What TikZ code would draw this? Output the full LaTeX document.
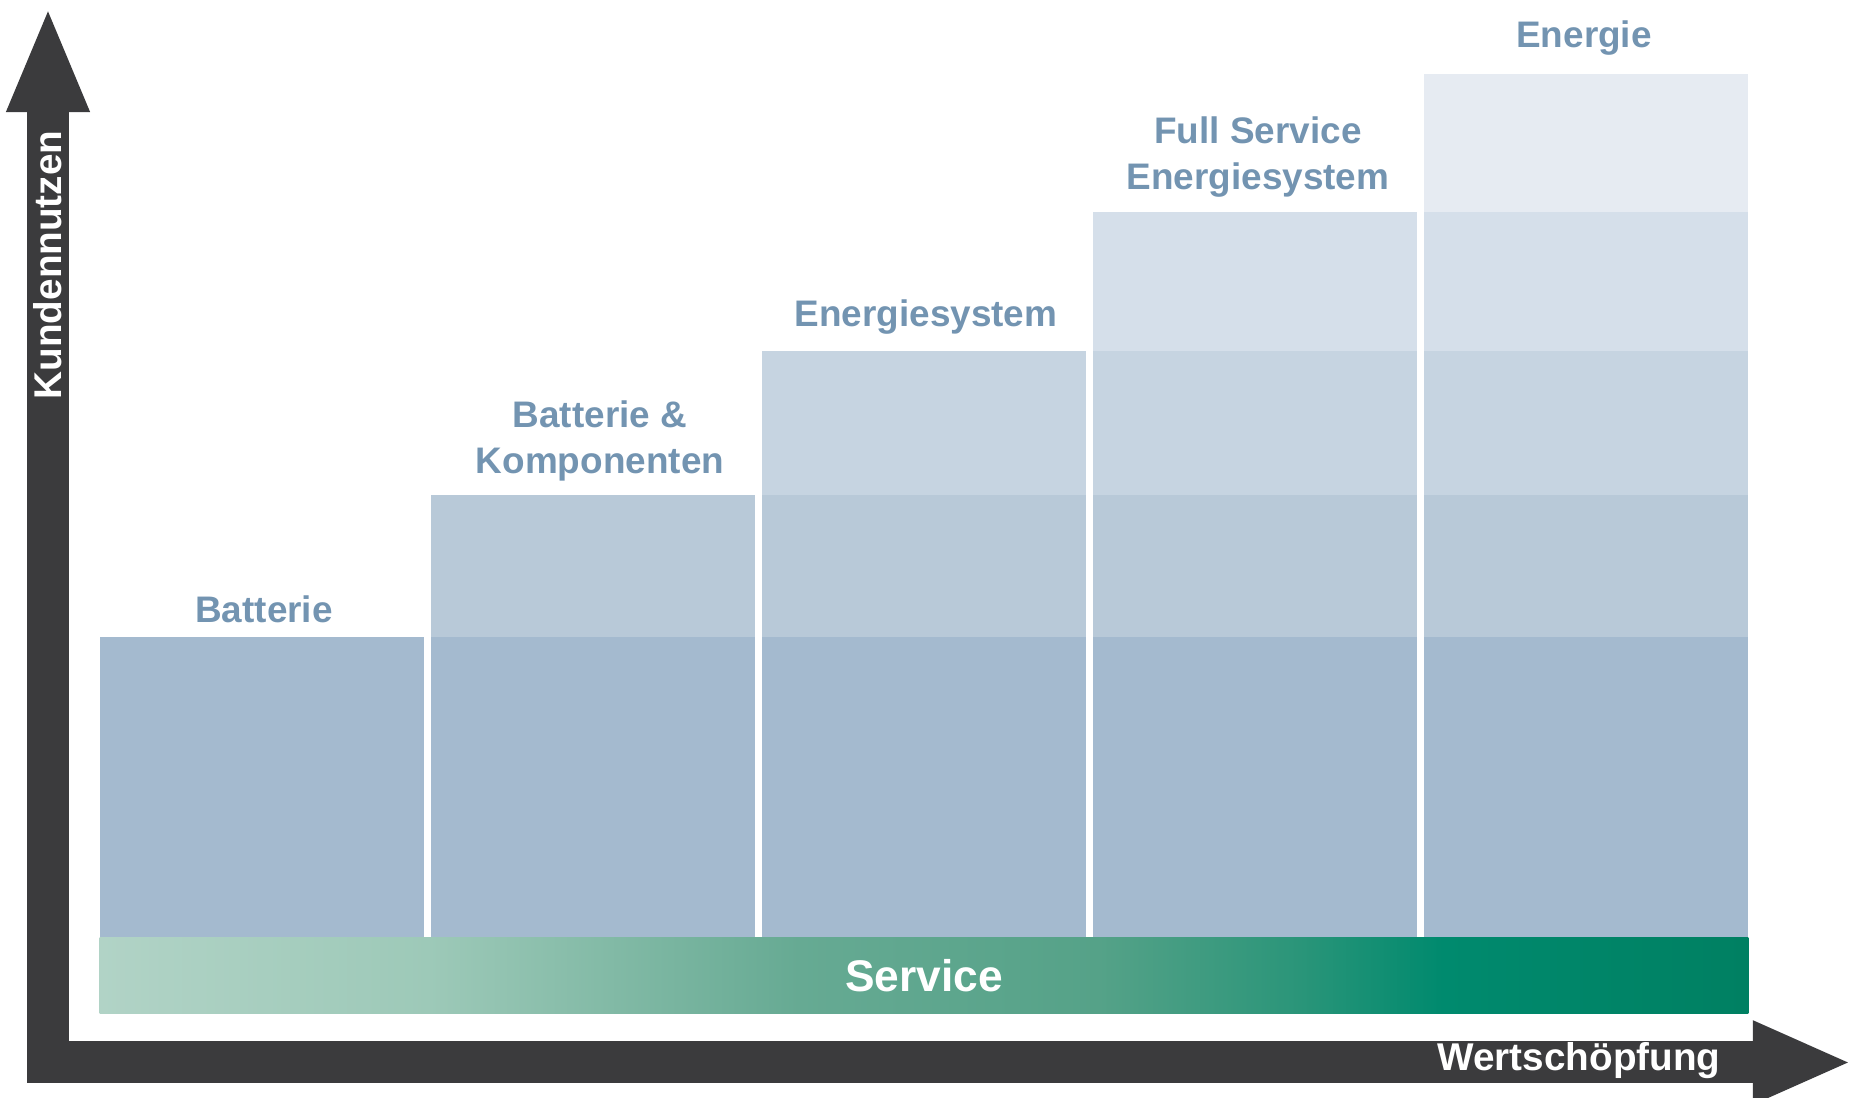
\documentclass[tikz,border=0pt]{standalone}
\usepackage{fontspec}
\setmainfont{Liberation Sans}
\usepackage{tikz}
\usetikzlibrary{
  positioning,
  arrows.meta
}
\usepackage{xcolor}

\definecolor{axisgray}{HTML}{3B3B3D}
\definecolor{lbltext}{HTML}{7394B1}
\definecolor{lvl1}{HTML}{A4BACF}
\definecolor{lvl2}{HTML}{B8C9D8}
\definecolor{lvl3}{HTML}{C6D4E1}
\definecolor{lvl4}{HTML}{D5DFEA}
\definecolor{lvl5}{HTML}{E6EBF2}
\definecolor{svA}{HTML}{B1D3C6}
\definecolor{svB}{HTML}{9DC9B8}
\definecolor{svC}{HTML}{66AA93}
\definecolor{svD}{HTML}{55A288}
\definecolor{svE}{HTML}{2A9579}
\definecolor{svF}{HTML}{008A6E}
\definecolor{svG}{HTML}{008062}
\pgfdeclarehorizontalshading{servicefade}{100bp}{color(0bp)=(svA); color(25bp)=(svA);
  color(35bp)=(svB); color(46.2bp)=(svC); color(55.3bp)=(svD); color(61.4bp)=(svE);
  color(65.7bp)=(svF); color(75bp)=(svG); color(100bp)=(svG)}

\begin{document}
\begin{tikzpicture}[x=0.01cm,y=0.01cm,
  axis/.style={draw=axisgray,line width=0.42cm,line join=miter,
    {Triangle[width=0.75cm,length=1.06cm]}-{Triangle[width=0.76cm,length=0.99cm]}},
  lbl/.style={text=lbltext,font=\fontsize{10.5}{13.1}\selectfont\bfseries,align=center,inner sep=0pt},
  axislbl/.style={text=white,font=\fontsize{11}{13}\selectfont\bfseries,inner sep=0pt},
  serviceband/.style={shading=servicefade,minimum width=16.48cm,minimum height=0.76cm,inner sep=0pt,
    text=white,font=\fontsize{12.6}{15}\selectfont\bfseries}]
                \useasboundingbox (0,0) rectangle (1853,1098);
                % stacked levels, column c holds levels 1..c
                \foreach \l/\ya/\yb in {1/161/461,2/461/603,3/603/747,4/747/886,5/886/1024}
                    \foreach \c in {\l,...,5}
                        \fill[lvl\l] ({100+(\c-1)*331},\ya) rectangle ({424+(\c-1)*331},\yb);
                \node[serviceband] (service) at (924,122) {Service};
                \node[lbl,anchor=base] (lbatt) at (264,475) {Batterie};
                \node[lbl,anchor=base] (lkomp) at (600,624) {Batterie \&\\Komponenten};
                \node[lbl,anchor=base] (lsys) at (926,771) {Energiesystem};
                \node[lbl,anchor=base] (lfull) at (1258,908) {Full Service\\Energiesystem};
                \node[lbl,anchor=base] (lenergie) at (1584,1050) {Energie};
                % axes
                \coordinate (origin) at (48,35.5);
                \coordinate (ytip) at (48,1092);
                \coordinate (xtip) at (1852,35.5);
                \draw[axis] (ytip) -- (origin) -- (xtip);
                \node[axislbl,rotate=90] (kunden) at (48,833) {Kundennutzen};
                \node[axislbl] (wert) at (1579,37) {Wertschöpfung};
            \end{tikzpicture}
\end{document}
